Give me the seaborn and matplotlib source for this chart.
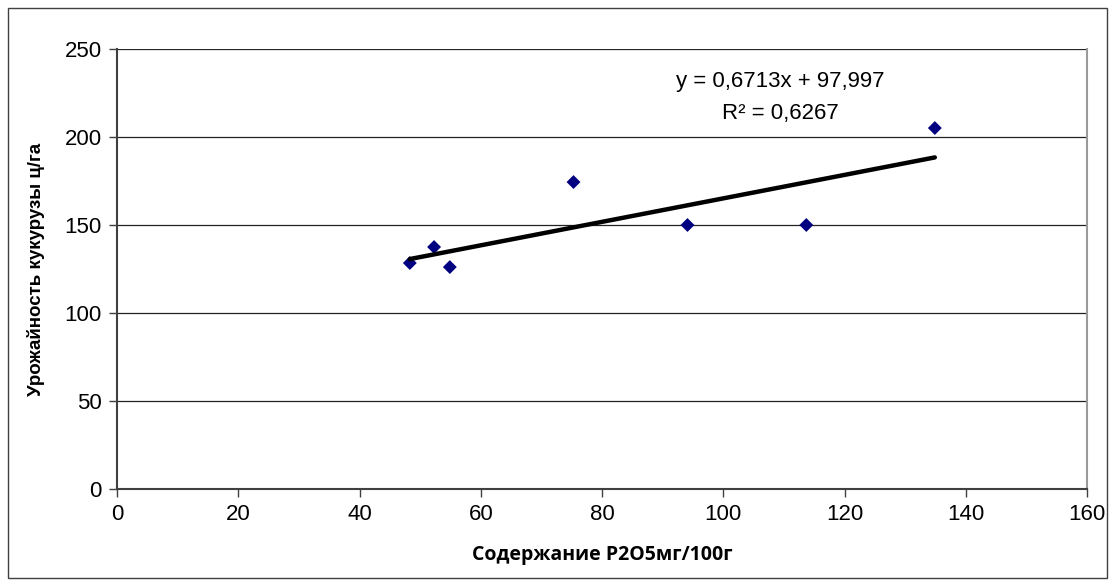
import matplotlib
matplotlib.use("Agg")
import matplotlib.pyplot as plt
import seaborn as sns
import numpy as np
import pandas as pd
from matplotlib.patches import Rectangle

p2o5 = [48.3, 52.3, 54.9, 75.3, 94.1, 113.7, 134.9]
yield_cq = [128.4, 137.5, 126.1, 174.4, 150.0, 150.0, 205.1]
eq_text = "y = 0,6713x + 97,997"
r2_text = "R² = 0,6267"
x_label = "Содержание P2O5мг/100г"
y_label = "Урожайность кукурузы ц/га"
x_ticks = [0, 20, 40, 60, 80, 100, 120, 140, 160]
y_ticks = [0, 50, 100, 150, 200, 250]

df = pd.DataFrame({"x": p2o5, "y": yield_cq})

sns.set_theme(style="white")
plt.rcParams['font.family'] = ['Liberation Sans', 'DejaVu Sans']
plt.rcParams['text.color'] = 'black'
plt.rcParams['axes.labelcolor'] = 'black'
plt.rcParams['xtick.color'] = 'black'
plt.rcParams['ytick.color'] = 'black'

fig = plt.figure(figsize=(11.15, 5.86), dpi=100)
ax = fig.add_axes([117/1115, 1-489/586, 970/1115, 440/586])

sns.regplot(data=df, x="x", y="y", ax=ax, ci=None, truncate=True, marker="D",
            scatter_kws=dict(s=50, color="#000080", edgecolors="none", zorder=3, alpha=1),
            line_kws=dict(color="black", lw=3.2, zorder=4))

ax.set_xlim(0, 160)
ax.set_ylim(0, 250)
ax.set_xticks(x_ticks)
ax.set_yticks(y_ticks)
ax.tick_params(axis="both", labelsize=16, direction="out", length=6, width=1,
               bottom=True, left=True, pad=5)
ax.tick_params(axis="both", color="#404040")
ax.yaxis.grid(True, color="#222222", lw=0.9)
ax.set_axisbelow(True)
for s in ["left", "bottom"]:
    ax.spines[s].set_color("#404040")
    ax.spines[s].set_linewidth(1.5)
ax.spines["right"].set_color("#9a9a9a")
ax.spines["right"].set_linewidth(1.5)
ax.spines["top"].set_visible(False)

ax.set_xlabel(x_label, fontsize=14, fontweight="bold", family=["Open Sans", "DejaVu Sans"], labelpad=14)
ax.set_ylabel(y_label, fontsize=13.5, fontweight="bold", labelpad=14)

ax.text(109.4, 231.5, eq_text, fontsize=16, ha="center", va="center")
ax.text(109.4, 213.5, r2_text, fontsize=16, ha="center", va="center")

fig.patches.append(Rectangle((8/1115, 8/586), 1099/1115, 570/586, transform=fig.transFigure,
                             fill=False, edgecolor="#404040", lw=1))

fig.savefig("out.png", dpi=100, facecolor="white")
